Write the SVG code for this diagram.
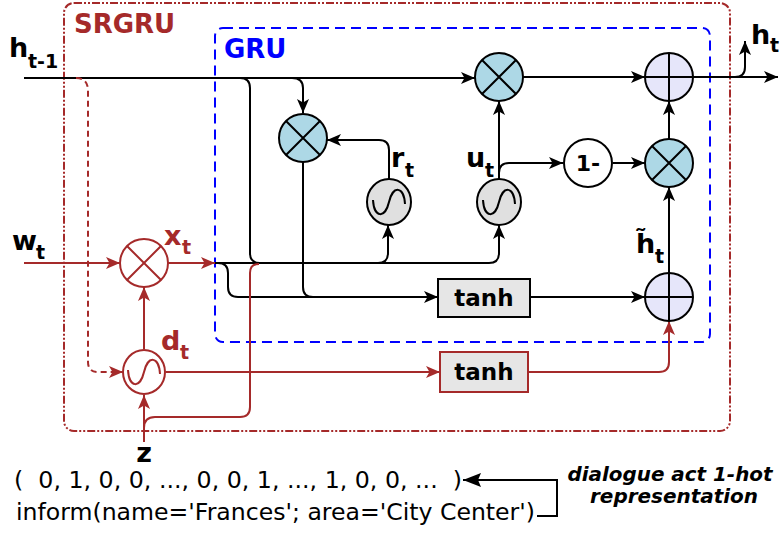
<svg xmlns="http://www.w3.org/2000/svg" width="780" height="536" viewBox="0 0 780 536">
<defs>
<style>
text{font-family:"DejaVu Sans","Liberation Sans",sans-serif;font-weight:bold}
.k{fill:none;stroke:#000;stroke-width:2}
.b{fill:none;stroke:#a52a2a;stroke-width:2}
.mul{fill:#add8e6;stroke:#000;stroke-width:2}
.add{fill:#e6e6fa;stroke:#000;stroke-width:2}
.sig{fill:#e0e0e0;stroke:#000;stroke-width:2}
.bw{fill:#fff;stroke:#a52a2a;stroke-width:2}
.lbl{font-size:27px;fill:#000}
.sub{font-size:19px}
.br{fill:#a52a2a}
</style>
<marker id="ak" viewBox="0 0 14 12" refX="14" refY="6" markerWidth="14" markerHeight="12" markerUnits="userSpaceOnUse" orient="auto"><path d="M0,0 L14,6 L0,12 L3.5,6z" fill="#000"/></marker>
<marker id="abr" viewBox="0 0 14 12" refX="14" refY="6" markerWidth="14" markerHeight="12" markerUnits="userSpaceOnUse" orient="auto"><path d="M0,0 L14,6 L0,12 L3.5,6z" fill="#a52a2a"/></marker>
<marker id="abig" viewBox="0 0 18 14" refX="18" refY="7" markerWidth="18" markerHeight="14" markerUnits="userSpaceOnUse" orient="auto"><path d="M0,0 L18,7 L0,14 L3,7z" fill="#000"/></marker>
</defs>

<g id="srgru-box">
<rect x="64" y="3" width="666" height="428" rx="10" fill="none" stroke="#a52a2a" stroke-width="2" stroke-dasharray="8,2,2,2,2,2"/>
<text x="74" y="33" font-size="26" class="br">SRGRU</text>
</g>
<g id="gru-box">
<rect x="215" y="28" width="495" height="314" rx="8" fill="none" stroke="#0000ff" stroke-width="2" stroke-dasharray="10,6"/>
<text x="224" y="58" font-size="26" fill="#0000ff">GRU</text>
</g>

<g id="connectors">
<!-- black -->
<path class="k" d="M24,78 H475" marker-end="url(#ak)"/>
<path class="k" d="M292,78 Q303,78 303,88 V113" marker-end="url(#ak)"/>
<path class="k" d="M240,78 Q250,78 250,88 V253 Q250,263 260,263 H378"/>
<path class="k" d="M214,263 H489 Q499,263 499,253 V225" marker-end="url(#ak)"/>
<path class="k" d="M378,263 Q388,263 388,253 V225" marker-end="url(#ak)"/>
<path class="k" d="M218,263 Q228,263 228,273 V287 Q228,297 238,297 H438" marker-end="url(#ak)"/>
<path class="k" d="M303,162 V287 Q303,297 313,297 H420"/>
<path class="k" d="M389,179 V150 Q389,140 379,140 H327" marker-end="url(#ak)"/>
<path class="k" d="M499,179 V101" marker-end="url(#ak)"/>
<path class="k" d="M499,173 Q499,163 509,163 H563" marker-end="url(#ak)"/>
<path class="k" d="M613,163 H645" marker-end="url(#ak)"/>
<path class="k" d="M669,139 V101" marker-end="url(#ak)"/>
<path class="k" d="M669,273 V187" marker-end="url(#ak)"/>
<path class="k" d="M530,297 H645" marker-end="url(#ak)"/>
<path class="k" d="M523,77 H645" marker-end="url(#ak)"/>
<path class="k" d="M693,77 H778" marker-end="url(#ak)"/>
<path class="k" d="M735,77 Q745,77 745,67 V41" marker-end="url(#ak)"/>
<!-- brown -->
<path class="b" d="M24,263 H120" marker-end="url(#abr)"/>
<path class="b" d="M168,263 H215" stroke-width="2.5" marker-end="url(#abr)"/>
<path class="b" d="M144,349 V287" marker-end="url(#abr)"/>
<path class="b" d="M144,442 V395" marker-end="url(#abr)"/>
<path class="b" d="M144,428 Q144,417 155,417 H240 Q250,417 250,407 V273 Q250,264 259,264"/>
<path class="b" d="M166,372 H440" marker-end="url(#abr)"/>
<path class="b" d="M528,372 H659 Q669,372 669,362 V321" marker-end="url(#abr)"/>
<path class="b" d="M76,78 Q87,78 88,89 V362 Q88,372 98,372 H123" stroke-dasharray="6,4" marker-end="url(#abr)"/>
<!-- bottom -->
<path class="k" d="M537,516 H557 V480 H463" marker-end="url(#abig)"/>
</g>

<g id="mul-top">
<circle class="mul" cx="499" cy="77" r="24"/>
<path class="k" d="M482,60 L516,94 M516,60 L482,94"/>
</g>
<g id="add-top">
<circle class="add" cx="669" cy="77" r="24"/>
<path class="k" d="M645,77 H693 M669,53 V101"/>
</g>
<g id="mul-r">
<circle class="mul" cx="303" cy="138" r="24"/>
<path class="k" d="M286,121 L320,155 M320,121 L286,155"/>
</g>
<g id="sig-r">
<ellipse class="sig" cx="389" cy="202" rx="22" ry="23"/>
<path class="k" d="M373,200 C374,218 385,219 389,202 C393,185 404,186 405,204"/>
</g>
<g id="sig-u">
<ellipse class="sig" cx="499" cy="202" rx="22" ry="23"/>
<path class="k" d="M483,200 C484,218 495,219 499,202 C503,185 514,186 515,204"/>
</g>
<g id="one-minus">
<circle cx="588" cy="163" r="24" fill="#fff" stroke="#000" stroke-width="2"/>
<text x="588" y="171" font-size="22" text-anchor="middle">1-</text>
</g>
<g id="mul-u">
<circle class="mul" cx="669" cy="163" r="24"/>
<path class="k" d="M652,146 L686,180 M686,146 L652,180"/>
</g>
<g id="add-h">
<circle class="add" cx="669" cy="297" r="24"/>
<path class="k" d="M645,297 H693 M669,273 V321"/>
</g>
<g id="tanh-gru">
<rect x="438" y="279" width="92" height="38" fill="#e6e6e6" stroke="#000" stroke-width="2"/>
<text x="484" y="306" font-size="23" text-anchor="middle">tanh</text>
</g>
<g id="mul-w">
<circle class="bw" cx="144" cy="263" r="24"/>
<path class="b" d="M127,246 L161,280 M161,246 L127,280"/>
</g>
<g id="sig-d">
<ellipse class="bw" cx="144" cy="372" rx="21" ry="22"/>
<path class="b" d="M128,370 C129,388 140,389 144,372 C148,355 159,356 160,374"/>
</g>
<g id="tanh-d">
<rect x="440" y="352" width="88" height="40" fill="#e6e6e6" stroke="#a52a2a" stroke-width="2"/>
<text x="484" y="380" font-size="23" text-anchor="middle">tanh</text>
</g>

<g id="labels">
<text class="lbl" x="9" y="57">h<tspan class="sub" x="28" y="68">t-1</tspan></text>
<text class="lbl" x="751" y="44">h<tspan class="sub" x="770" y="52">t</tspan></text>
<text class="lbl" x="12" y="250">w<tspan class="sub" x="36" y="259">t</tspan></text>
<text class="lbl br" x="164" y="245">x<tspan class="sub" x="182" y="254">t</tspan></text>
<text class="lbl br" x="161" y="350">d<tspan class="sub" x="180" y="359">t</tspan></text>
<text class="lbl" x="391" y="167">r<tspan class="sub" x="405" y="177">t</tspan></text>
<text class="lbl" x="466" y="167">u<tspan class="sub" x="485" y="177">t</tspan></text>
<text class="lbl" x="636" y="253">h&#x303;<tspan class="sub" x="655" y="263">t</tspan></text>
<text class="lbl" x="144" y="462" text-anchor="middle">z</text>
</g>

<g id="onehot">
<text x="14" y="488" font-size="23" style="font-weight:normal;white-space:pre" textLength="448" lengthAdjust="spacingAndGlyphs">(  0, 1, 0, 0, ..., 0, 0, 1, ..., 1, 0, 0, ...  )</text>
<text x="16" y="520" font-size="23" style="font-weight:normal" textLength="519" lengthAdjust="spacingAndGlyphs">inform(name='Frances'; area='City Center')</text>
<text x="670" y="481" font-size="20" font-style="italic" text-anchor="middle" textLength="205" lengthAdjust="spacingAndGlyphs">dialogue act 1-hot</text>
<text x="674" y="503" font-size="20" font-style="italic" text-anchor="middle" textLength="168" lengthAdjust="spacingAndGlyphs">representation</text>
</g>
</svg>
